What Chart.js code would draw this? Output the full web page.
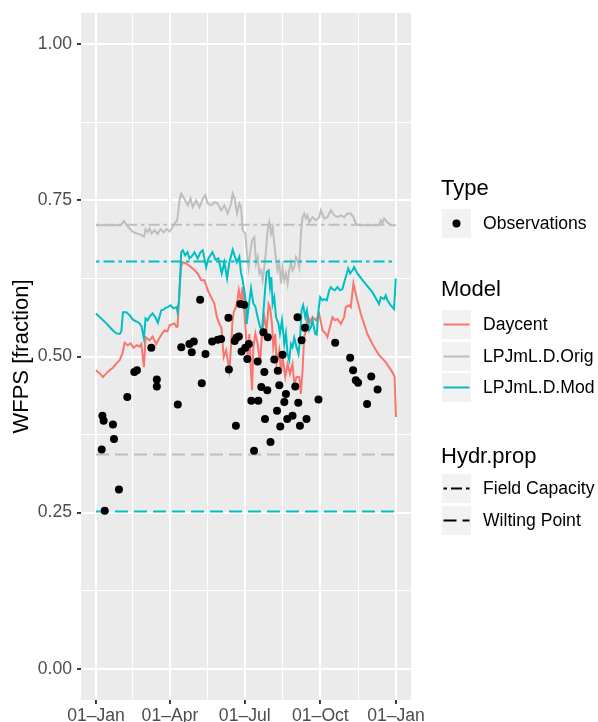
<!DOCTYPE html>
<html><head><meta charset="utf-8">
<script src="https://cdn.jsdelivr.net/npm/chart.js@4.4.1/dist/chart.umd.min.js"></script>
<style>
html,body{margin:0;padding:0;background:#fff;}
#wrap{position:relative;width:598px;height:722px;overflow:hidden;font-family:'Liberation Sans',Arial,sans-serif;}
#c{position:absolute;left:0;top:0;}
.lt{position:absolute;left:441px;font-size:22px;line-height:26px;height:26px;color:#000;white-space:nowrap;}
.kb{position:absolute;left:442px;width:29px;height:29px;background:#F2F2F2;}
.kb svg{display:block;}
.ll{position:absolute;left:483px;font-size:17.6px;line-height:29px;height:29px;color:#000;white-space:nowrap;}
</style></head><body>
<div id="wrap">
<canvas id="c" width="598" height="722"></canvas>
<div class="lt" style="top:175px">Type</div>
<div class="kb" style="top:208.5px"><svg width="29" height="29"><circle cx="14.5" cy="14.5" r="4" fill="#000"/></svg></div>
<div class="ll" style="top:208.5px">Observations</div>
<div class="lt" style="top:275.5px">Model</div>
<div class="kb" style="top:310px"><svg width="29" height="29"><line x1="1.5" y1="14.5" x2="27.5" y2="14.5" stroke="#F8766D" stroke-width="2"/></svg></div>
<div class="ll" style="top:310px">Daycent</div>
<div class="kb" style="top:341.5px"><svg width="29" height="29"><line x1="1.5" y1="14.5" x2="27.5" y2="14.5" stroke="#BEBEBE" stroke-width="2"/></svg></div>
<div class="ll" style="top:341.5px">LPJmL.D.Orig</div>
<div class="kb" style="top:373px"><svg width="29" height="29"><line x1="1.5" y1="14.5" x2="27.5" y2="14.5" stroke="#00BFC4" stroke-width="2"/></svg></div>
<div class="ll" style="top:373px">LPJmL.D.Mod</div>
<div class="lt" style="top:442.5px">Hydr.prop</div>
<div class="kb" style="top:474px"><svg width="29" height="29"><line x1="1.5" y1="14.5" x2="27.5" y2="14.5" stroke="#000" stroke-width="2" stroke-dasharray="3.5 4 11 4"/></svg></div>
<div class="ll" style="top:474px">Field Capacity</div>
<div class="kb" style="top:505.5px"><svg width="29" height="29"><line x1="1.5" y1="14.5" x2="27.5" y2="14.5" stroke="#000" stroke-width="2" stroke-dasharray="13 6"/></svg></div>
<div class="ll" style="top:505.5px">Wilting Point</div>
</div>
<script>
// ---- data (day of year, WFPS fraction) ----
const xTickDays = [0, 90, 181, 273, 365];
const xTickLabels = ['01–Jan', '01–Apr', '01–Jul', '01–Oct', '01–Jan'];
const xMinorDays = [45, 135.5, 227, 319];
const yTickValues = [0, 0.25, 0.5, 0.75, 1];
const yTickLabels = ['0.00', '0.25', '0.50', '0.75', '1.00'];
const yMinorValues = [0.125, 0.375, 0.625, 0.875];

const obsDay = [6.9,7.8,9.3,10.6,20.6,21.9,27.9,38.1,46.6,49.8,67.3,74,74,99.5,103.7,113.7,116.5,119,126.7,128.7,133.2,141.3,148.1,152.2,161.1,161.7,168.7,170.2,170.8,173.8,175.6,177.1,180.3,181.7,184.1,186,189,192.3,196.7,197.5,201.1,203.6,204.8,205.6,208.4,209,212.3,216.9,220.2,221.2,223,224.2,227,229.1,231.1,232.7,239.1,242.4,245.2,246.1,248.1,250.1,254.2,256.1,270.7,291,309.2,312.8,316.1,318.9,329.8,334.9,342.6];
const obsValue = [0.351,0.405,0.397,0.253,0.391,0.368,0.287,0.435,0.475,0.478,0.514,0.463,0.452,0.423,0.515,0.520,0.507,0.524,0.591,0.457,0.504,0.524,0.527,0.528,0.562,0.479,0.525,0.389,0.530,0.532,0.584,0.508,0.583,0.514,0.496,0.520,0.429,0.349,0.492,0.429,0.451,0.539,0.475,0.400,0.446,0.531,0.363,0.495,0.413,0.477,0.454,0.388,0.503,0.427,0.440,0.400,0.405,0.452,0.563,0.426,0.389,0.526,0.546,0.400,0.431,0.522,0.498,0.478,0.462,0.458,0.424,0.468,0.447];

const daycentDay = [0,4.5,8.5,12.6,16.6,20.6,24.8,28.8,32.4,34.8,38.5,42.1,45.8,49.4,53,55.1,58.3,60.3,65.2,68.8,73.3,77.3,80.6,83.4,87,89.5,93.5,95.5,98,99.2,101.6,103.7,104.6,109.7,115.8,119.8,123.8,127.9,132,136,140.1,144.1,147.1,150.2,152.6,155.4,158.3,162.3,164.4,165.9,167.5,170.2,172,173.8,176.3,178.4,180.5,182.6,184.5,186.6,188.6,189.9,191.4,193.9,196.7,199.6,202,204.8,207.6,210,211.7,214.1,215.7,218.1,219.7,223,225.1,227,230.3,233.1,236,239.1,241.2,244,247.3,249.3,251.3,253.3,255.4,257.3,260.3,263.4,267.5,271.6,275.6,279.7,281.6,283.7,287.7,290.6,293.8,297.9,301.9,303.9,307.9,310,313.2,316.1,322.2,330.2,338.3,344.4,352.5,360.5,363.2,365];
const daycentValue = [0.478,0.473,0.467,0.473,0.478,0.482,0.489,0.494,0.506,0.522,0.518,0.521,0.514,0.518,0.516,0.520,0.483,0.531,0.526,0.532,0.520,0.530,0.537,0.542,0.540,0.550,0.552,0.553,0.547,0.548,0.606,0.647,0.651,0.649,0.643,0.638,0.633,0.622,0.622,0.606,0.595,0.584,0.563,0.552,0.546,0.499,0.510,0.478,0.518,0.554,0.571,0.579,0.590,0.606,0.587,0.611,0.571,0.531,0.499,0.536,0.473,0.446,0.514,0.537,0.520,0.489,0.537,0.563,0.542,0.584,0.579,0.552,0.515,0.536,0.489,0.510,0.472,0.499,0.467,0.488,0.472,0.488,0.456,0.467,0.467,0.440,0.478,0.531,0.542,0.566,0.555,0.563,0.558,0.568,0.542,0.536,0.531,0.542,0.563,0.558,0.560,0.552,0.563,0.579,0.582,0.579,0.617,0.600,0.568,0.536,0.515,0.502,0.491,0.475,0.468,0.403];

const origDay = [0,30,34,37.3,40.9,44.6,49,53,56.7,58.5,60.3,62.8,65.2,67.6,71.3,75,78.5,82.2,85.9,89.5,93.1,95.5,98.8,101.6,103.7,107.7,111.7,115,117.7,121.9,125.9,129.9,132.8,136,140.1,144.1,148.1,152.2,156.2,160.2,164.4,166.3,168.7,171.6,174.4,176.5,178.4,181.7,183.3,185.7,187.4,189.9,192.6,194.7,196.7,198.7,200.8,202.7,204.8,206.8,208.8,210.9,212.9,214.9,216.9,219,220.9,223,225.1,227,229.1,231.1,233.1,235.1,237.2,239.1,241.2,243.3,245.2,247.3,249.3,251.3,253.3,255.4,257.3,259.4,263.4,267.5,271.6,273.6,277.6,281.6,285.7,289.8,293.8,297.9,301.9,305.9,310,313.2,316.1,320.1,344.4,346.5,348.4,350.5,354.5,358.6,365];
const origValue = [0.710,0.710,0.717,0.710,0.705,0.700,0.697,0.696,0.693,0.692,0.704,0.699,0.705,0.697,0.702,0.696,0.704,0.699,0.704,0.700,0.707,0.713,0.718,0.750,0.761,0.752,0.742,0.753,0.739,0.750,0.739,0.753,0.758,0.745,0.742,0.747,0.745,0.734,0.742,0.729,0.745,0.761,0.753,0.729,0.745,0.739,0.702,0.697,0.670,0.643,0.665,0.686,0.691,0.649,0.659,0.633,0.638,0.622,0.643,0.670,0.702,0.715,0.697,0.707,0.681,0.654,0.638,0.649,0.617,0.641,0.622,0.633,0.617,0.638,0.651,0.638,0.643,0.659,0.654,0.643,0.697,0.723,0.729,0.721,0.726,0.715,0.723,0.718,0.723,0.734,0.721,0.723,0.734,0.726,0.723,0.726,0.723,0.729,0.729,0.723,0.713,0.710,0.710,0.718,0.713,0.721,0.715,0.710,0.710];

const modDay = [0,12.6,20.3,24.8,28.8,30.8,32.8,36.9,40.9,44.9,49.4,53,55.5,58.3,60.3,62.8,65.2,68.8,72.5,75.3,79.4,82.2,84.6,87.4,90.7,94.3,98,99.2,101,103.7,105.6,108.5,111.3,113.7,117.4,119.8,123.8,127.1,129.9,134,136.8,141.7,145.3,148.9,153,156.2,159.5,162.3,166.3,168.4,171.4,174.4,176.3,178.4,180.5,182.6,183.3,185.7,188.6,191.4,193.9,196.7,199.6,202,203.6,206,207.6,210,211.7,213.3,214.9,216.9,219,222.1,223.8,226.3,229.1,231.1,233.1,235.1,237.2,239.1,241.2,244,246.4,248.1,250.1,252.1,254.6,256.6,259.4,261.5,263.4,266.7,268.5,270.7,272.8,275.6,277.6,280.9,283.7,285.7,287.7,290.6,293.8,297,299.8,302.7,305.2,306.8,309.2,312,314,318,326.2,336.2,344.4,346.5,350.5,352.6,354.5,358.6,362.6,364.7];
const modValue = [0.569,0.553,0.542,0.537,0.536,0.540,0.571,0.571,0.566,0.559,0.556,0.553,0.548,0.529,0.561,0.558,0.564,0.569,0.562,0.554,0.574,0.575,0.578,0.579,0.582,0.577,0.579,0.571,0.590,0.667,0.670,0.662,0.667,0.657,0.662,0.667,0.657,0.667,0.670,0.643,0.657,0.667,0.655,0.657,0.633,0.651,0.625,0.651,0.671,0.662,0.651,0.660,0.635,0.622,0.606,0.582,0.552,0.579,0.609,0.585,0.580,0.563,0.547,0.542,0.569,0.611,0.635,0.638,0.611,0.627,0.584,0.595,0.563,0.552,0.537,0.558,0.520,0.537,0.504,0.494,0.520,0.515,0.530,0.515,0.504,0.526,0.574,0.582,0.563,0.574,0.542,0.547,0.558,0.536,0.535,0.574,0.595,0.590,0.592,0.590,0.606,0.611,0.608,0.606,0.611,0.606,0.608,0.622,0.633,0.641,0.633,0.638,0.643,0.633,0.619,0.603,0.584,0.595,0.592,0.598,0.590,0.582,0.576,0.625];

// Hydraulic properties: [LPJmL.D.Orig, LPJmL.D.Mod]
const fieldCapacity = [0.711, 0.652];
const wiltingPoint = [0.343, 0.252];
const yearStart = 0, yearEnd = 365;

// ---- chart ----
const FONT = "'Liberation Sans', Arial, sans-serif";
const COL = { daycent: '#F8766D', orig: '#BEBEBE', mod: '#00BFC4' };
const DOTDASH = [3.5, 4, 11, 4];
const DASHED = [13, 6];

const xAll = xTickDays.concat(xMinorDays).sort((a, b) => a - b);
const yAll = yTickValues.concat(yMinorValues).sort((a, b) => a - b);
const xIdx = v => xTickDays.findIndex(t => Math.abs(t - v) < 1e-9);
const yIdx = v => yTickValues.findIndex(t => Math.abs(t - v) < 1e-9);

const pts = (d, v) => d.map((x, i) => ({ x: x, y: v[i] }));
const hline = v => [{ x: yearStart, y: v }, { x: yearEnd, y: v }];
const lineDs = (label, data, color, dash) => ({
  label, data, borderColor: color, backgroundColor: color, borderWidth: 2,
  borderDash: dash || [], showLine: true, pointRadius: 0, pointHoverRadius: 0,
  fill: false, tension: 0, borderCapStyle: 'butt'
});

const panelBg = {
  id: 'panelBg',
  beforeDraw(chart) {
    const { ctx, chartArea: a } = chart;
    ctx.save();
    ctx.fillStyle = '#EBEBEB';
    ctx.fillRect(a.left, a.top, a.right - a.left, a.bottom - a.top);
    ctx.restore();
  }
};

const gridOpts = (isMajor) => ({
  color: '#FFFFFF',
  lineWidth: c => (c.tick && isMajor(c.tick.value)) ? 1.9 : 0.95,
  tickLength: 4,
  tickColor: c => (c.tick && isMajor(c.tick.value)) ? '#333333' : 'rgba(0,0,0,0)',
  tickWidth: 1.9
});

new Chart(document.getElementById('c'), {
  type: 'scatter',
  data: {
    datasets: [
      { label: 'Observations', data: pts(obsDay, obsValue), pointRadius: 4, pointHoverRadius: 4,
        pointBackgroundColor: '#000', pointBorderWidth: 0, showLine: false },
      lineDs('FC Mod', hline(fieldCapacity[1]), COL.mod, DOTDASH),
      lineDs('FC Orig', hline(fieldCapacity[0]), COL.orig, DOTDASH),
      lineDs('WP Mod', hline(wiltingPoint[1]), COL.mod, DASHED),
      lineDs('WP Orig', hline(wiltingPoint[0]), COL.orig, DASHED),
      lineDs('LPJmL.D.Mod', pts(modDay, modValue), COL.mod),
      lineDs('LPJmL.D.Orig', pts(origDay, origValue), COL.orig),
      lineDs('Daycent', pts(daycentDay, daycentValue), COL.daycent)
    ]
  },
  options: {
    responsive: false, animation: false, devicePixelRatio: 1,
    events: [],
    layout: { padding: { left: 0, right: 187, top: 13, bottom: 0 } },
    plugins: { legend: { display: false }, tooltip: { enabled: false } },
    scales: {
      x: {
        type: 'linear', min: -18.25, max: 383.25,
        afterBuildTicks: s => { s.ticks = xAll.map(v => ({ value: v })); },
        afterFit: s => { s.height = 22; s.paddingLeft = 0; s.paddingRight = 0; s.paddingTop = 0; s.paddingBottom = 0; },
        ticks: {
          autoSkip: false, maxRotation: 0, minRotation: 0, padding: 2,
          callback: v => { const i = xIdx(v); return i >= 0 ? xTickLabels[i] : ''; },
          font: { family: FONT, size: 17.6 }, color: '#4D4D4D'
        },
        grid: gridOpts(v => xIdx(v) >= 0),
        border: { display: false }
      },
      y: {
        type: 'linear', min: -0.05, max: 1.05,
        afterBuildTicks: s => { s.ticks = yAll.map(v => ({ value: v })); },
        afterFit: s => { s.width = 81; s.paddingLeft = 0; s.paddingRight = 0; s.paddingTop = 0; s.paddingBottom = 0; },
        ticks: {
          padding: 5,
          callback: v => { const i = yIdx(v); return i >= 0 ? yTickLabels[i] : ''; },
          font: { family: FONT, size: 17.6 }, color: '#4D4D4D'
        },
        grid: gridOpts(v => yIdx(v) >= 0),
        border: { display: false },
        title: { display: true, text: 'WFPS [fraction]', color: '#000',
          font: { family: FONT, size: 22 }, padding: { top: 8.7, bottom: 0 } }
      }
    }
  },
  plugins: [panelBg]
});
</script>
</body></html>
